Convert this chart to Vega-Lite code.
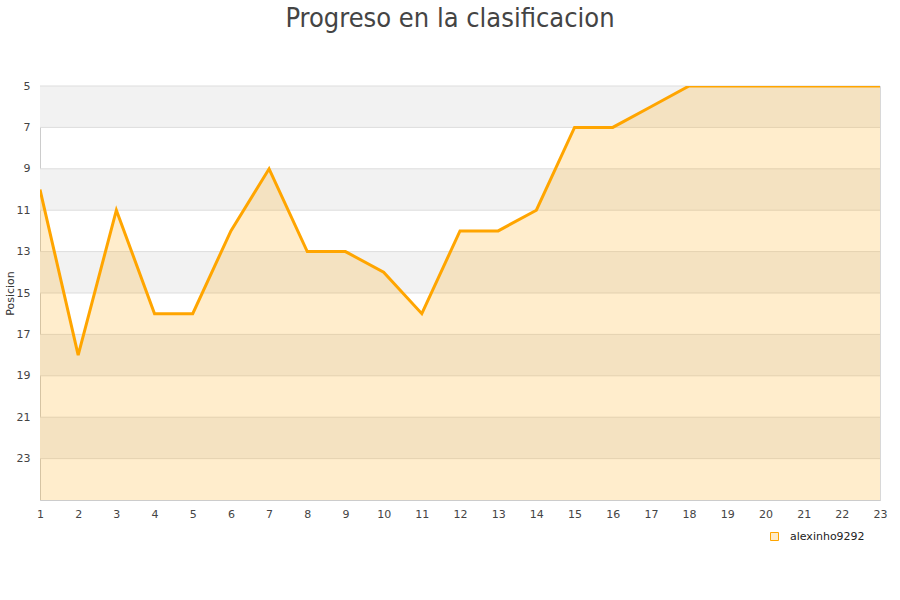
{
  "$schema": "https://vega.github.io/schema/vega-lite/v6.json",
  "width": 840,
  "height": 414,
  "autosize": "none",
  "padding": {"left": 40, "top": 86, "right": 20, "bottom": 100},
  "background": "white",
  "config": {"view": {"stroke": "#d8d8d8", "strokeWidth": 1}},
  "title": {
    "text": "Progreso en la clasificacion",
    "font": "Liberation Sans Narrow, DejaVu Sans Condensed, Liberation Sans, sans-serif",
    "fontSize": 27,
    "fontWeight": "normal",
    "color": "#444444",
    "anchor": "middle",
    "frame": "group",
    "baseline": "alphabetic",
    "offset": 26,
    "dx": -10
  },
  "datasets": {
    "posiciones": [
      {"jornada": 1, "posicion": 10, "jugador": "alexinho9292"},
      {"jornada": 2, "posicion": 18, "jugador": "alexinho9292"},
      {"jornada": 3, "posicion": 11, "jugador": "alexinho9292"},
      {"jornada": 4, "posicion": 16, "jugador": "alexinho9292"},
      {"jornada": 5, "posicion": 16, "jugador": "alexinho9292"},
      {"jornada": 6, "posicion": 12, "jugador": "alexinho9292"},
      {"jornada": 7, "posicion": 9, "jugador": "alexinho9292"},
      {"jornada": 8, "posicion": 13, "jugador": "alexinho9292"},
      {"jornada": 9, "posicion": 13, "jugador": "alexinho9292"},
      {"jornada": 10, "posicion": 14, "jugador": "alexinho9292"},
      {"jornada": 11, "posicion": 16, "jugador": "alexinho9292"},
      {"jornada": 12, "posicion": 12, "jugador": "alexinho9292"},
      {"jornada": 13, "posicion": 12, "jugador": "alexinho9292"},
      {"jornada": 14, "posicion": 11, "jugador": "alexinho9292"},
      {"jornada": 15, "posicion": 7, "jugador": "alexinho9292"},
      {"jornada": 16, "posicion": 7, "jugador": "alexinho9292"},
      {"jornada": 17, "posicion": 6, "jugador": "alexinho9292"},
      {"jornada": 18, "posicion": 5, "jugador": "alexinho9292"},
      {"jornada": 19, "posicion": 5, "jugador": "alexinho9292"},
      {"jornada": 20, "posicion": 5, "jugador": "alexinho9292"},
      {"jornada": 21, "posicion": 5, "jugador": "alexinho9292"},
      {"jornada": 22, "posicion": 5, "jugador": "alexinho9292"},
      {"jornada": 23, "posicion": 5, "jugador": "alexinho9292"}
    ],
    "bandas": [
      {"desde": 5, "hasta": 7},
      {"desde": 9, "hasta": 11},
      {"desde": 13, "hasta": 15},
      {"desde": 17, "hasta": 19},
      {"desde": 21, "hasta": 23}
    ],
    "rejilla": [
      {"v": 5}, {"v": 7}, {"v": 9}, {"v": 11}, {"v": 13}, {"v": 15},
      {"v": 17}, {"v": 19}, {"v": 21}, {"v": 23}
    ]
  },
  "layer": [
    {
      "data": {"name": "bandas"},
      "mark": {"type": "rect", "color": "#f2f2f2"},
      "encoding": {
        "x": {
          "datum": 1, "type": "quantitative",
          "scale": {"domain": [1, 23], "nice": false, "zero": false},
          "axis": {
            "values": [1,2,3,4,5,6,7,8,9,10,11,12,13,14,15,16,17,18,19,20,21,22,23],
            "tickCount": 23,
            "title": null, "grid": false, "ticks": false, "labelOverlap": false,
            "domainColor": "#cccccc", "labelFont": "DejaVu Sans", "labelFontSize": 11,
            "labelColor": "#444444", "labelPadding": 8, "labelFlush": false
          }
        },
        "x2": {"datum": 23},
        "y": {
          "field": "desde", "type": "quantitative",
          "scale": {"domain": [5, 25], "reverse": true, "nice": false, "zero": false},
          "axis": {
            "values": [5,7,9,11,13,15,17,19,21,23],
            "title": "Posicion", "titleFont": "DejaVu Sans", "titleFontSize": 11,
            "titleFontWeight": "normal", "titleColor": "#333333", "titlePadding": 1,
            "grid": false, "ticks": false, "domainColor": "#cccccc", "labelOverlap": false,
            "labelFont": "DejaVu Sans", "labelFontSize": 11, "labelColor": "#444444",
            "labelPadding": 10, "labelFlush": false
          }
        },
        "y2": {"field": "hasta"}
      }
    },
    {
      "data": {"name": "rejilla"},
      "mark": {"type": "rule", "color": "#dddddd", "strokeWidth": 1},
      "encoding": {
        "y": {"field": "v", "type": "quantitative"}
      }
    },
    {
      "data": {"name": "posiciones"},
      "mark": {"type": "area", "color": "#ffa500", "opacity": 0.2, "clip": true},
      "encoding": {
        "x": {"field": "jornada", "type": "quantitative"},
        "y": {"field": "posicion", "type": "quantitative"},
        "y2": {"datum": 25}
      }
    },
    {
      "data": {"name": "posiciones"},
      "mark": {"type": "line", "strokeWidth": 3, "clip": true},
      "encoding": {
        "x": {"field": "jornada", "type": "quantitative"},
        "y": {"field": "posicion", "type": "quantitative"},
        "color": {
          "field": "jugador", "type": "nominal", "scale": {"range": ["#ffa500"]},
          "legend": {
            "title": null, "orient": "none", "legendX": 729, "legendY": 445,
            "symbolType": "square", "symbolSize": 64, "labelOffset": 10,
            "labelFont": "DejaVu Sans", "labelFontSize": 11, "labelColor": "#222222",
            "symbolStrokeWidth": 1, "symbolFillColor": "#ffebc8", "symbolStrokeColor": "#b09868",
            "encode": {"symbols": {"update": {"fill": {"value": "#ffebc8"}, "stroke": {"value": "#b09868"}, "strokeWidth": {"value": 1}}}}
          }
        }
      }
    }
  ]
}
